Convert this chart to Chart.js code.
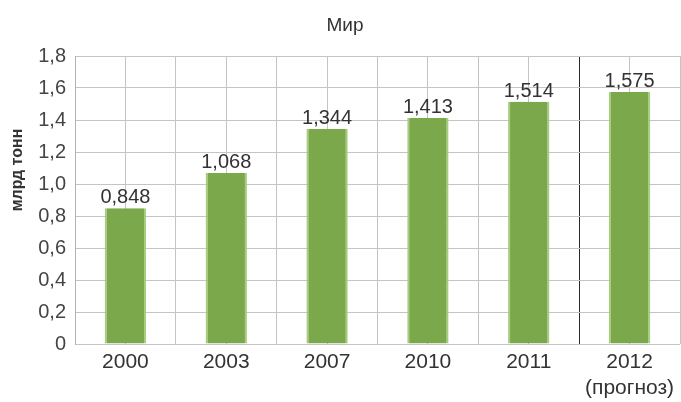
<!DOCTYPE html>
<html>
<head>
<meta charset="utf-8">
<script src="https://cdn.jsdelivr.net/npm/chart.js@4/dist/chart.umd.min.js"></script>
<style>
  html, body { margin: 0; padding: 0; background: #fff; }
  #wrap { width: 681px; height: 402px; }
</style>
</head>
<body>
<div id="wrap"><canvas id="barChart" width="681" height="402"></canvas></div>
<script>
const years = ['2000', '2003', '2007', '2010', '2011', ['2012', '(прогноз)']];
const production = [0.848, 1.068, 1.344, 1.413, 1.514, 1.575];
const yTicks = [0, 0.2, 0.4, 0.6, 0.8, 1.0, 1.2, 1.4, 1.6, 1.8];
const chartTitle = 'Мир';
const yTitle = 'млрд тонн';

const FONT = '"Liberation Sans", Arial, sans-serif';
const fmt = v => v === 0 ? '0' : v.toFixed(1).replace('.', ',');

// value labels above bars + titles
const extraText = {
  id: 'extraText',
  afterDatasetsDraw(chart) {
    const ctx = chart.ctx;
    const meta = chart.getDatasetMeta(0);
    ctx.save();
    ctx.font = '20px ' + FONT;
    ctx.fillStyle = '#333';
    ctx.textAlign = 'center';
    ctx.textBaseline = 'alphabetic';
    meta.data.forEach((bar, i) => {
      ctx.fillText(production[i].toFixed(3).replace('.', ','), bar.x, bar.y - 5);
    });

    ctx.font = '19px ' + FONT;
    ctx.fillText(chartTitle, 345, 31);

    ctx.translate(22, 170);
    ctx.rotate(-Math.PI / 2);
    ctx.font = 'bold 16px ' + FONT;
    ctx.fillText(yTitle, 0, 0);
    ctx.restore();
  }
};

const ctx = document.getElementById('barChart').getContext('2d');
new Chart(ctx, {
  type: 'bar',
  data: {
    labels: years,
    datasets: [{
      data: production,
      backgroundColor: '#7aa84a',
      borderColor: '#a6cc7e',
      borderWidth: { left: 2, right: 2, top: 0, bottom: 0 },
      borderSkipped: false,
      categoryPercentage: 1,
      barPercentage: 0.41
    }]
  },
  options: {
    responsive: false,
    animation: false,
    layout: { padding: { left: 30, right: 1, top: 56, bottom: 0 } },
    plugins: {
      legend: { display: false },
      tooltip: { enabled: false },
      title: { display: false }
    },
    scales: {
      x: {
        grid: { display: false, drawTicks: false },
        border: { display: false },
        afterFit: axis => { axis.height = 58; },
        ticks: {
          color: '#333',
          font: { family: FONT, size: 21, lineHeight: 1.2 },
          padding: 6,
          maxRotation: 0
        }
      },
      xg: {
        type: 'linear',
        position: 'top',
        offset: false,
        min: 0,
        max: 12,
        afterBuildTicks: axis => {
          axis.ticks = Array.from({ length: 13 }, (_, i) => ({ value: i }));
        },
        afterFit: axis => { axis.height = 0; },
        ticks: { display: false },
        border: { display: false },
        grid: {
          offset: false,
          drawTicks: false,
          color: c => c.index === 10 ? '#2a2a2a' : '#c4c4c4',
          lineWidth: 1
        }
      },
      y: {
        min: 0,
        max: 1.8,
        afterBuildTicks: axis => { axis.ticks = yTicks.map(v => ({ value: v })); },
        afterFit: axis => { axis.width = 45; },
        grid: { color: '#c4c4c4', drawTicks: false },
        border: { color: '#b4b4b4' },
        ticks: {
          color: '#444',
          font: { family: FONT, size: 20 },
          padding: 9,
          callback: v => fmt(v)
        }
      }
    }
  },
  plugins: [extraText]
});
</script>
</body>
</html>
